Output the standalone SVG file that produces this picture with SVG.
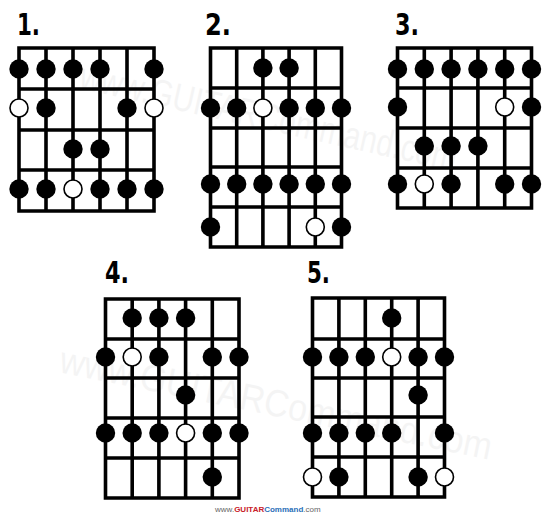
<svg xmlns="http://www.w3.org/2000/svg" xmlns:xlink="http://www.w3.org/1999/xlink" width="550" height="520" viewBox="0 0 550 520">
<style>
.g{fill:none;stroke:#000;stroke-width:3.6;stroke-linecap:square}
.f{fill:#000}
.o{fill:#fff;stroke:#000;stroke-width:1.6}
.n{font-family:"DejaVu Sans Condensed","DejaVu Sans",sans-serif;font-weight:bold;font-size:31px;fill:#000}
.wm{font-family:"Liberation Sans",Arial,sans-serif;font-size:38px;fill:#000;opacity:0.04}
.ft{font-family:"Liberation Sans",Arial,sans-serif;font-size:8px}
</style>
<defs>
<circle id="F" r="9.7" class="f"/>
<circle id="O" r="9" class="o"/>
</defs>
<rect width="550" height="520" fill="#fff"/>
<g id="watermark">
<text class="wm" transform="translate(78,88) rotate(12.5)" textLength="385" lengthAdjust="spacingAndGlyphs">www.GUITARCommand.com</text>
<text class="wm" transform="translate(58,372) rotate(11.5)" textLength="440" lengthAdjust="spacingAndGlyphs">www.GUITARCommand.com</text>
</g>
<g id="d1">
<text class="n" x="17" y="35" textLength="23" lengthAdjust="spacingAndGlyphs">1.</text>
<path class="g" d="M19,48H154V211H19Z M46,48V211 M73,48V211 M100,48V211 M127,48V211 M19,89H154 M19,130H154 M19,170H154"/>
<use href="#F" x="19" y="69"/><use href="#F" x="46" y="69"/><use href="#F" x="73" y="69"/><use href="#F" x="100" y="69"/><use href="#F" x="154" y="69"/>
<use href="#O" x="19" y="108"/><use href="#F" x="46" y="108"/><use href="#F" x="127" y="108"/><use href="#O" x="154" y="108"/>
<use href="#F" x="73" y="149"/><use href="#F" x="100" y="149"/>
<use href="#F" x="19" y="189"/><use href="#F" x="46" y="189"/><use href="#O" x="73" y="189"/><use href="#F" x="100" y="189"/><use href="#F" x="127" y="189"/><use href="#F" x="154" y="189"/>
</g>
<g id="d2">
<text class="n" x="205" y="35" textLength="26" lengthAdjust="spacingAndGlyphs">2.</text>
<path class="g" d="M210.5,48H341.5V247H210.5Z M236.7,48V247 M262.9,48V247 M289.1,48V247 M315.3,48V247 M210.5,88H341.5 M210.5,128H341.5 M210.5,167H341.5 M210.5,207H341.5"/>
<use href="#F" x="262.9" y="68"/><use href="#F" x="289.1" y="68"/>
<use href="#F" x="210.5" y="108"/><use href="#F" x="236.7" y="108"/><use href="#O" x="262.9" y="108"/><use href="#F" x="289.1" y="108"/><use href="#F" x="315.3" y="108"/><use href="#F" x="341.5" y="108"/>
<use href="#F" x="210.5" y="184"/><use href="#F" x="236.7" y="184"/><use href="#F" x="262.9" y="184"/><use href="#F" x="289.1" y="184"/><use href="#F" x="315.3" y="184"/><use href="#F" x="341.5" y="184"/>
<use href="#F" x="210.5" y="227"/><use href="#O" x="315.3" y="227"/><use href="#F" x="341.5" y="227"/>
</g>
<g id="d3">
<text class="n" x="395" y="35" textLength="24" lengthAdjust="spacingAndGlyphs">3.</text>
<path class="g" d="M397.5,48H531.5V208H397.5Z M424.3,48V208 M451.1,48V208 M477.9,48V208 M504.7,48V208 M397.5,88H531.5 M397.5,128H531.5 M397.5,168H531.5"/>
<use href="#F" x="397.5" y="69"/><use href="#F" x="424.3" y="69"/><use href="#F" x="451.1" y="69"/><use href="#F" x="477.9" y="69"/><use href="#F" x="504.7" y="69"/><use href="#F" x="531.5" y="69"/>
<use href="#F" x="397.5" y="107"/><use href="#O" x="504.7" y="107"/><use href="#F" x="531.5" y="107"/>
<use href="#F" x="424.3" y="146"/><use href="#F" x="451.1" y="146"/><use href="#F" x="477.9" y="146"/>
<use href="#F" x="397.5" y="184"/><use href="#O" x="424.3" y="184"/><use href="#F" x="451.1" y="184"/><use href="#F" x="504.7" y="184"/><use href="#F" x="531.5" y="184"/>
</g>
<g id="d4">
<text class="n" x="105" y="283" textLength="24" lengthAdjust="spacingAndGlyphs">4.</text>
<path class="g" d="M105.5,299H239V498H105.5Z M132.2,299V498 M158.9,299V498 M185.6,299V498 M212.3,299V498 M105.5,339H239 M105.5,378H239 M105.5,418H239 M105.5,458H239"/>
<use href="#F" x="132.2" y="318"/><use href="#F" x="158.9" y="318"/><use href="#F" x="185.6" y="318"/>
<use href="#F" x="105.5" y="357"/><use href="#O" x="132.2" y="357"/><use href="#F" x="158.9" y="357"/><use href="#F" x="212.3" y="357"/><use href="#F" x="239" y="357"/>
<use href="#F" x="185.6" y="395"/>
<use href="#F" x="105.5" y="433"/><use href="#F" x="132.2" y="433"/><use href="#F" x="158.9" y="433"/><use href="#O" x="185.6" y="433"/><use href="#F" x="212.3" y="433"/><use href="#F" x="239" y="433"/>
<use href="#F" x="212.3" y="477"/>
</g>
<g id="d5">
<text class="n" x="307" y="283" textLength="23" lengthAdjust="spacingAndGlyphs">5.</text>
<path class="g" d="M312.5,298H444.5V497H312.5Z M338.9,298V497 M365.3,298V497 M391.7,298V497 M418.1,298V497 M312.5,339H444.5 M312.5,378H444.5 M312.5,417H444.5 M312.5,457H444.5"/>
<use href="#F" x="391.7" y="318"/>
<use href="#F" x="312.5" y="357"/><use href="#F" x="338.9" y="357"/><use href="#F" x="365.3" y="357"/><use href="#O" x="391.7" y="357"/><use href="#F" x="418.1" y="357"/><use href="#F" x="444.5" y="357"/>
<use href="#F" x="418.1" y="395"/>
<use href="#F" x="312.5" y="433"/><use href="#F" x="338.9" y="433"/><use href="#F" x="365.3" y="433"/><use href="#F" x="391.7" y="433"/><use href="#F" x="444.5" y="433"/>
<use href="#O" x="312.5" y="477"/><use href="#F" x="338.9" y="477"/><use href="#F" x="418.1" y="477"/><use href="#O" x="444.5" y="477"/>
</g>
<g id="footer">
<text class="ft" x="215" y="512"><tspan fill="#666">www.</tspan><tspan fill="#c8202a" font-weight="bold">GUITAR</tspan><tspan fill="#2a6fb8" font-weight="bold">Command</tspan><tspan fill="#666">.com</tspan></text>
</g>
</svg>
